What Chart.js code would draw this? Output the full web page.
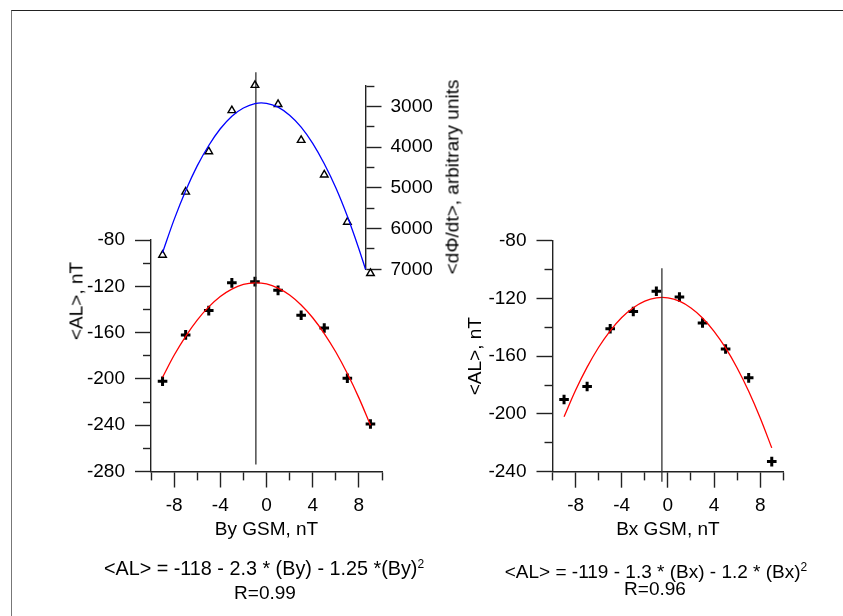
<!DOCTYPE html>
<html><head><meta charset="utf-8">
<script src="https://cdn.jsdelivr.net/npm/chart.js@4.4.0/dist/chart.umd.min.js"></script>
<style>
html,body{margin:0;padding:0;background:#fff;}
#wrap{position:relative;width:843px;height:616px;overflow:hidden;font-family:"Liberation Sans",Arial,sans-serif;color:#000;background:#fff;}
canvas{position:absolute;left:0;top:0;}
.frame{position:absolute;left:11px;top:10px;width:840px;height:620px;border-top:1px solid #222;border-left:1px solid #777;}
.t{position:absolute;font-size:19px;white-space:nowrap;transform:translate(-50%,-50%);line-height:1;}
sup{font-size:12px;vertical-align:7px;line-height:0;}
</style></head>
<body><div id="wrap">
<div class="frame"></div>
<canvas id="c1" width="843" height="616"></canvas>
<canvas id="c3" width="843" height="616"></canvas>
<canvas id="c2" width="843" height="616"></canvas>
<div class="t" style="left:76px;top:301px;transform:translate(-50%,-50%) rotate(-90deg)">&lt;AL&gt;, nT</div>
<div class="t" style="left:452px;top:177px;transform:translate(-50%,-50%) rotate(-90deg)">&lt;dΦ/dt&gt;, arbitrary units</div>
<div class="t" style="left:264px;top:569px;font-size:19.8px">&lt;AL&gt; = -118 - 2.3 * (By) - 1.25 *(By)<sup>2</sup></div>
<div class="t" style="left:265px;top:592px">R=0.99</div>
<div class="t" style="left:656px;top:571px">&lt;AL&gt; = -119 - 1.3 * (Bx) - 1.2 * (Bx)<sup>2</sup></div>
<div class="t" style="left:655px;top:588px">R=0.96</div>
</div>
<script>
// ---- data ----
const imfX = [-9, -7, -5, -3, -1, 1, 3, 5, 7, 9];
const alBy = [-202, -162, -141, -117, -116, -123.5, -145, -156, -199.5, -239];
const dPhiBy = [6650, 5100, 4110, 3100, 2480, 2950, 3830, 4680, 5840, 7100];
const alBx = [-190, -181, -141, -129, -115, -119, -137, -155, -175, -233];

const fitX = [-9, -8, -7, -6, -5, -4, -3, -2, -1, 0, 1, 2, 3, 4, 5, 6, 7, 8, 9];
const alByFit = [-198.6, -179.6, -163.2, -149.2, -137.8, -128.8, -122.4, -118.4, -117, -118, -121.6, -127.6, -136.2, -147.2, -160.8, -176.8, -195.4, -216.4, -240];
const alBxFit = [-202, -183.6, -167.6, -153.8, -142.4, -133.2, -126.4, -121.8, -119.6, -119.6, -121.9, -126.6, -133.5, -142.8, -154.3, -168.2, -184.3, -202.8, -223.5];
const dPhiFitX = [-9, -8, -7, -6, -5, -4, -3, -2, -1, 0, 1, 2, 3, 4, 5, 6, 7, 8, 8.57];
const dPhiFit = [6590, 5780, 5070, 4460, 3960, 3550, 3240, 3040, 2930, 2925, 3020, 3220, 3510, 3910, 4410, 5000, 5700, 6500, 7000];

const byVertexX = -0.92, byVertexSpan = [65, -274];
const bxVertexX = -0.52, bxVertexSpan = [-99, -247];

const xTicksLabeled = [-8, -4, 0, 4, 8];
const alTickLabelStep = 40;
const dPhiTickLabelStep = 1000;
const dPhiAxisAtX = 8.57;

// ---- helpers ----
const FS = 19;
Chart.defaults.font.family = '"Liberation Sans", Arial, sans-serif';
Chart.defaults.font.size = FS;
Chart.defaults.color = '#000';
const AX = '#222';
const pts = (xs, ys) => xs.map((x, i) => ({x, y: ys[i]}));

function gridOpts(isMajor, outerStart) {
  return {
    drawOnChartArea: false, drawTicks: true, tickLength: 16,
    tickColor: AX, tickWidth: 1.4,
    tickBorderDash: c => (c.tick && isMajor(c.tick.value)) ? [] : (outerStart ? [8, 8] : [8, 100]),
    tickBorderDashOffset: c => (c.tick && isMajor(c.tick.value)) ? 0 : (outerStart ? 8 : 0)
  };
}
const xMajor = v => xTicksLabeled.includes(v);
const alMajor = v => Math.abs(v % alTickLabelStep) < 1e-9;
const dMajor = v => Math.abs(v % dPhiTickLabelStep) < 1e-9;

function xScale(H, title) {
  return {
    type: 'linear', position: 'bottom', min: -10, max: 10,
    border: {color: AX, width: 1.4},
    grid: gridOpts(xMajor, false),
    ticks: {stepSize: 2, autoSkip: false, maxRotation: 0, padding: 7,
      callback: v => xMajor(v) ? String(v) : ''},
    title: {display: true, text: title, padding: 0, font: {size: FS}},
    afterFit: s => { s.height = H; }
  };
}
function alScale(min, W, showTitle) {
  return {
    type: 'linear', position: 'left', min: min, max: -80,
    border: {color: AX, width: 1.4},
    grid: gridOpts(alMajor, true),
    ticks: {stepSize: 20, autoSkip: false, padding: 10,
      callback: v => alMajor(v) ? String(v) : ''},
    title: {display: showTitle, text: '<AL>, nT', padding: 0, font: {size: FS}},
    afterFit: s => { s.width = W; }
  };
}
const common = {
  responsive: false, animation: false, events: [],
  plugins: {legend: {display: false}, tooltip: {enabled: false}}
};
function crossSet(data) {
  return {type: 'scatter', data, showLine: false, pointStyle: 'cross', pointRadius: 4.8,
    borderColor: '#000', backgroundColor: '#000', pointBorderWidth: 3, clip: false};
}
function fitSet(data, color) {
  return {type: 'line', data, showLine: true, pointRadius: 0, borderColor: color,
    borderWidth: 1.3, tension: 0.35, fill: false, clip: false};
}
function vline(x, span) {
  return {type: 'line', data: [{x, y: span[0]}, {x, y: span[1]}], pointRadius: 0,
    borderColor: '#333', borderWidth: 1.3, fill: false, clip: false};
}

// ---- left panel: <AL> vs By ----
new Chart(document.getElementById('c1'), {
  type: 'scatter',
  data: {datasets: [
    vline(byVertexX, byVertexSpan),
    fitSet(pts(fitX, alByFit), '#ff0000'),
    crossSet(pts(imfX, alBy))
  ]},
  options: Object.assign({}, common, {
    layout: {padding: {left: 63, right: 461, top: 240, bottom: 74.6}},
    scales: {x: xScale(69.9, 'By GSM, nT'), y: alScale(-280, 88, false)}
  })
});

// ---- left panel overlay: <dPhi/dt> vs By ----
new Chart(document.getElementById('c2'), {
  type: 'scatter',
  data: {datasets: [
    fitSet(pts(dPhiFitX, dPhiFit), '#0000ff'),
    {type: 'scatter', data: pts(imfX, dPhiBy), showLine: false, pointStyle: 'triangle',
      pointRadius: 4.4, borderColor: '#000', backgroundColor: 'rgba(255,255,255,0)',
      pointBorderWidth: 1.4, clip: false}
  ]},
  options: Object.assign({}, common, {
    layout: {padding: {left: 151, right: 397.5, top: 86, bottom: 346.7}},
    scales: {
      x: {type: 'linear', display: false, min: -10, max: dPhiAxisAtX},
      y: {type: 'linear', position: 'right', reverse: true, min: 2500, max: 7000,
        border: {color: AX, width: 1.4},
        grid: gridOpts(dMajor, false),
        ticks: {stepSize: 500, autoSkip: false, padding: 9,
          callback: v => dMajor(v) ? String(v) : ''},
        afterFit: s => { s.width = 80; }
      }
    }
  })
});

// ---- right panel: <AL> vs Bx ----
new Chart(document.getElementById('c3'), {
  type: 'scatter',
  data: {datasets: [
    vline(bxVertexX, bxVertexSpan),
    fitSet(pts(fitX, alBxFit), '#ff0000'),
    crossSet(pts(imfX, alBx))
  ]},
  options: Object.assign({}, common, {
    layout: {padding: {left: 464.6, right: 59.7, top: 240.7, bottom: 74.4}},
    scales: {x: xScale(69.9, 'Bx GSM, nT'), y: alScale(-240, 87.9, true)}
  })
});
</script>
</body></html>
